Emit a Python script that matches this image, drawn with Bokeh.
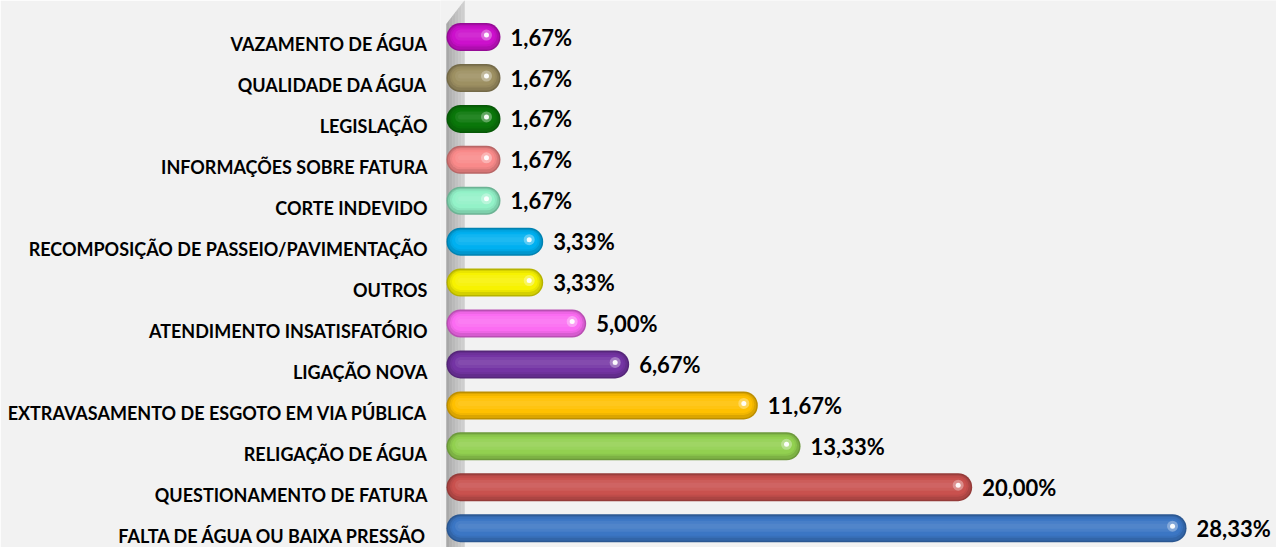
from bokeh.plotting import figure
from bokeh.models import Range1d, FixedTicker, ColumnDataSource
from bokeh.core.properties import value
from bokeh.embed import file_html
from bokeh.resources import INLINE

# ---- data (bottom to top) ----
categories = [
    "FALTA DE ÁGUA OU BAIXA PRESSÃO",
    "QUESTIONAMENTO DE FATURA",
    "RELIGAÇÃO DE ÁGUA",
    "EXTRAVASAMENTO DE ESGOTO EM VIA PÚBLICA",
    "LIGAÇÃO NOVA",
    "ATENDIMENTO INSATISFATÓRIO",
    "OUTROS",
    "RECOMPOSIÇÃO DE PASSEIO/PAVIMENTAÇÃO",
    "CORTE INDEVIDO",
    "INFORMAÇÕES SOBRE FATURA",
    "LEGISLAÇÃO",
    "QUALIDADE DA ÁGUA",
    "VAZAMENTO DE ÁGUA",
]
percentages = [28.33, 20.00, 13.33, 11.67, 6.67, 5.00, 3.33, 3.33, 1.67, 1.67, 1.67, 1.67, 1.67]
colors = ["#3b76c4", "#c9514e", "#92d050", "#ffc000", "#7434a4", "#fb6cf2",
          "#f7f200", "#00b0f0", "#93f2c8", "#f98a8a", "#0a770a", "#9d9062", "#cc10cc"]

def shade(hexc, f):
    r, g, b = int(hexc[1:3], 16), int(hexc[3:5], 16), int(hexc[5:7], 16)
    if f < 1:
        r, g, b = int(r * f), int(g * f), int(b * f)
    else:
        t = f - 1
        r, g, b = int(r + (255 - r) * t), int(g + (255 - g) * t), int(b + (255 - b) * t)
    return "#%02x%02x%02x" % (r, g, b)

BAR_LIFT = 0.18     # bars sit a little above their label (3D depth)
BAR_START = 0.66    # start of bar body (depth offset)
PXY = 1 / 40.92     # one pixel in y data units
idx = list(range(len(categories)))
bar_y = [i + BAR_LIFT for i in idx]
labels_txt = [("%.2f" % v).replace(".", ",") + "%" for v in percentages]

src = ColumnDataSource(dict(
    y=bar_y,
    y1=[y + 1 * PXY for y in bar_y],
    y2=[y + 2 * PXY for y in bar_y],
    y3=[y + 3 * PXY for y in bar_y],
    x0=[BAR_START] * len(idx), x1=percentages,
    c1=[shade(c, 0.74) for c in colors],
    c2=[shade(c, 0.86) for c in colors],
    c3=[shade(c, 0.95) for c in colors],
    c4=colors,
    c5=[shade(c, 1.07) for c in colors],
    c6=[shade(c, 1.13) for c in colors],
    txt=labels_txt,
))

p = figure(width=1276, height=547, output_backend="svg", toolbar_location=None,
           x_range=Range1d(-0.117, 32.37), y_range=Range1d(-0.293, 13.074),
           min_border_left=440, min_border_right=0, min_border_top=0, min_border_bottom=0)
p.background_fill_color = "#f2f2f2"
p.border_fill_color = "#f2f2f2"
p.outline_line_color = None
p.xaxis.visible = False
p.xgrid.visible = False
p.ygrid.visible = False

ax = p.yaxis[0]
ax.ticker = FixedTicker(ticks=idx)
ax.major_label_overrides = {i: c for i, c in zip(idx, categories)}
ax.axis_line_color = None
ax.major_tick_line_color = None
ax.minor_tick_line_color = None
ax.major_tick_out = 0
ax.major_tick_in = 0
ax.major_label_standoff = 13
ax.major_label_text_font = "Lato"
ax.major_label_text_font_style = "bold"
ax.major_label_text_font_size = "18px"
ax.major_label_text_color = "#000000"

# back wall (3D)
y_bottom = -0.3
wl, wr = 0.117, 0.816
strips = ["#a9a9a9", "#b3b3b3", "#bababa", "#c1c1c1", "#c8c8c8", "#cecece"]
n = len(strips)
for k, col in enumerate(strips):
    a = wl + (wr - wl) * k / n
    b = wl + (wr - wl) * (k + 1) / n
    ya = 12.5 + (13.07 - 12.5) * k / n
    yb = 12.5 + (13.07 - 12.5) * (k + 1) / n
    p.patch([a, b, b, a], [ya, yb, y_bottom, y_bottom], fill_color=col, line_color=col, line_width=0.5)

# bars: rounded cylinders built from layered round-capped strokes
p.segment(x0="x0", y0="y", x1="x1", y1="y", source=src, line_color="c1", line_width=28, line_cap="round")
p.segment(x0="x0", y0="y", x1="x1", y1="y", source=src, line_color="c2", line_width=25, line_cap="round")
p.segment(x0="x0", y0="y1", x1="x1", y1="y1", source=src, line_color="c3", line_width=21, line_cap="round")
p.segment(x0="x0", y0="y1", x1="x1", y1="y1", source=src, line_color="c4", line_width=17, line_cap="round")
p.segment(x0="x0", y0="y2", x1="x1", y1="y2", source=src, line_color="c5", line_width=11, line_cap="round")
p.segment(x0="x0", y0="y2", x1="x1", y1="y2", source=src, line_color="c6", line_width=5, line_cap="round",
          line_alpha=0.8)
# specular highlight near the rounded end
p.scatter(x="x1", y="y2", source=src, size=11, fill_color="white", line_color=None, fill_alpha=0.3)
p.scatter(x="x1", y="y2", source=src, size=5, fill_color="white", line_color=None, fill_alpha=0.95)

p.text(x="x1", y="y", text="txt", source=src, x_offset=24, text_baseline="middle",
       text_font=value("Lato"), text_font_style="bold", text_font_size="22px", text_color="#000000")

open("out.html", "w").write(file_html(p, INLINE))
